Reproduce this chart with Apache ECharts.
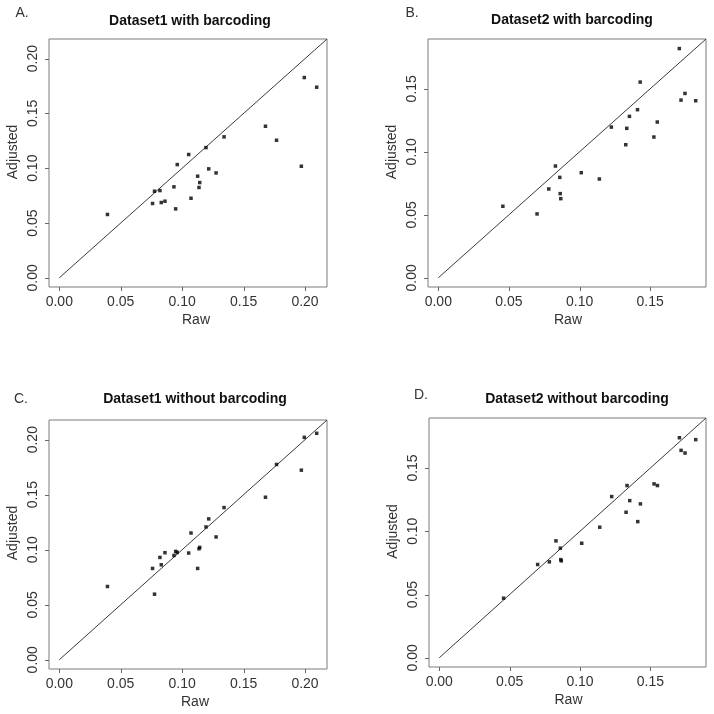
<!DOCTYPE html>
<html>
<head>
<meta charset="utf-8">
<script src="https://cdn.jsdelivr.net/npm/echarts@6/dist/echarts.min.js"></script>
<style>
html,body{margin:0;padding:0;background:#fff;}
#chart{width:714px;height:714px;}
</style>
</head>
<body>
<div id="chart"></div>
<script>
// ---- data ----
const raw1 = [0.0392,0.0759,0.0775,0.0819,0.0830,0.0860,0.0933,0.0947,0.0960,0.1053,0.1072,0.1126,0.1143,0.1137,0.1194,0.1216,0.1276,0.1341,0.1678,0.1768,0.1970,0.1994,0.2095];
const adjA = [0.0578,0.0678,0.0790,0.0796,0.0687,0.0699,0.0830,0.0629,0.1033,0.1125,0.0726,0.0927,0.0869,0.0824,0.1188,0.0994,0.0957,0.1286,0.1383,0.1255,0.1018,0.1827,0.1739];
const adjC = [0.0666,0.0830,0.0596,0.0930,0.0863,0.0973,0.0948,0.0985,0.0976,0.0970,0.1152,0.0830,0.1021,0.1009,0.1207,0.1280,0.1116,0.1383,0.1477,0.1775,0.1723,0.2021,0.2058];
const raw2 = [0.0457,0.0699,0.0782,0.0829,0.0860,0.0863,0.0867,0.1012,0.1140,0.1225,0.1327,0.1334,0.1353,0.1410,0.1429,0.1526,0.1550,0.1706,0.1718,0.1746,0.1822];
const adjB = [0.0568,0.0507,0.0705,0.0887,0.0797,0.0668,0.0628,0.0834,0.0784,0.1196,0.1056,0.1186,0.1281,0.1334,0.1553,0.1117,0.1236,0.1819,0.1410,0.1463,0.1405];
const adjD = [0.0471,0.0737,0.0758,0.0924,0.0866,0.0776,0.0766,0.0905,0.1032,0.1274,0.1150,0.1361,0.1242,0.1076,0.1216,0.1374,0.1361,0.1739,0.1639,0.1618,0.1724];
const tickValues = [0, 0.05, 0.10, 0.15, 0.20];
const panelTitles = ['Dataset1 with barcoding','Dataset2 with barcoding','Dataset1 without barcoding','Dataset2 without barcoding'];
const panelLetters = ['A.','B.','C.','D.'];
const xName = 'Raw';
const yName = 'Adjusted';

// ---- layout ----
const FONT = '"Liberation Sans", Arial, sans-serif';
const TICK_LEN = 4;
const panels = [
  {x: raw1, y: adjA, grid: {left: 49, top: 39, width: 278, height: 248},
   title: [190, 21], letter: [22, 13], xNamePad: 16, yNamePad: 22},
  {x: raw2, y: adjB, grid: {left: 428, top: 39, width: 278, height: 248},
   title: [572, 20], letter: [412, 13], xNamePad: 2, yNamePad: 22},
  {x: raw1, y: adjC, grid: {left: 49, top: 420, width: 278, height: 249},
   title: [195, 399], letter: [21, 399], xNamePad: 14, yNamePad: 23},
  {x: raw2, y: adjD, grid: {left: 429, top: 418, width: 277, height: 249},
   title: [577, 399], letter: [421, 395], xNamePad: 2, yNamePad: 22}
];

function limits(xs, ys) {
  const lo = 0;
  const hi = Math.max(0, ...xs, ...ys);
  const ext = 0.04 * (hi - lo);
  return [lo - ext, hi + ext];
}

const grids = [], xAxes = [], yAxes = [], series = [], graphics = [], ranges = [];
panels.forEach((p, i) => {
  const [mn, mx] = limits(p.x, p.y);
  ranges.push([mn, mx]);
  const ticks = tickValues.filter(v => v <= mx);
  grids.push(Object.assign({show: true, borderColor: '#7a7a7a', borderWidth: 1,
    backgroundColor: 'transparent', containLabel: false, outerBoundsMode: 'none'}, p.grid));
  const common = {
    gridIndex: i, type: 'value', min: mn, max: mx,
    axisLine: {show: false, onZero: false},
    splitLine: {show: false},
    axisTick: {show: false},
    nameLocation: 'middle',
    nameMoveOverlap: false
  };
  xAxes.push(Object.assign({}, common, {
    name: xName, nameGap: 26,
    nameTextStyle: {fontFamily: FONT, fontSize: 14, color: '#333', padding: [0, 0, 0, p.xNamePad]},
    axisLabel: {customValues: ticks, margin: 8, fontFamily: FONT, fontSize: 14, color: '#333',
      formatter: v => v.toFixed(2)}
  }));
  yAxes.push(Object.assign({}, common, {
    name: yName, nameGap: 29,
    nameTextStyle: {fontFamily: FONT, fontSize: 14, color: '#333', padding: [0, 0, 0, p.yNamePad]},
    axisLabel: {customValues: ticks, margin: 9, rotate: 90, fontFamily: FONT, fontSize: 14, color: '#333',
      formatter: v => v.toFixed(2)}
  }));
  series.push({
    type: 'line', xAxisIndex: i, yAxisIndex: i, data: [[0, 0], [mx, mx]],
    symbol: 'none', lineStyle: {color: '#3a3a3a', width: 1}, z: 1, silent: true
  });
  series.push({
    type: 'scatter', xAxisIndex: i, yAxisIndex: i,
    data: p.x.map((v, k) => [v, p.y[k]]),
    symbol: 'rect', symbolSize: 3.5, itemStyle: {color: '#000'}, z: 2
  });
  graphics.push({type: 'text', x: p.title[0], y: p.title[1],
    style: {text: panelTitles[i], font: 'bold 14px ' + FONT, fill: '#111',
      textAlign: 'center', textVerticalAlign: 'middle', textBaseline: 'middle'}});
  graphics.push({type: 'text', x: p.letter[0], y: p.letter[1],
    style: {text: panelLetters[i], font: '14px ' + FONT, fill: '#333',
      textAlign: 'center', textVerticalAlign: 'middle', textBaseline: 'middle'}});
});

const chart = echarts.init(document.getElementById('chart'), null, {renderer: 'canvas'});
chart.setOption({
  animation: false,
  backgroundColor: '#fff',
  grid: grids, xAxis: xAxes, yAxis: yAxes, series: series
});

// outward tick marks, positioned through the library's own axis scales
panels.forEach((p, i) => {
  const [mn, mx] = ranges[i];
  tickValues.filter(v => v <= mx).forEach(v => {
    const bx = chart.convertToPixel({gridIndex: i}, [v, mn]);
    const ly = chart.convertToPixel({gridIndex: i}, [mn, v]);
    if (bx && isFinite(bx[0])) {
      const x = Math.round(bx[0]) + 0.5;
      graphics.push({type: 'line', silent: true, z: 10,
        shape: {x1: x, y1: bx[1], x2: x, y2: bx[1] + TICK_LEN},
        style: {stroke: '#666', lineWidth: 1}});
    }
    if (ly && isFinite(ly[1])) {
      const y = Math.round(ly[1]) + 0.5;
      graphics.push({type: 'line', silent: true, z: 10,
        shape: {x1: ly[0], y1: y, x2: ly[0] - TICK_LEN, y2: y},
        style: {stroke: '#666', lineWidth: 1}});
    }
  });
});

chart.setOption({graphic: {elements: graphics}});
</script>
</body>
</html>
